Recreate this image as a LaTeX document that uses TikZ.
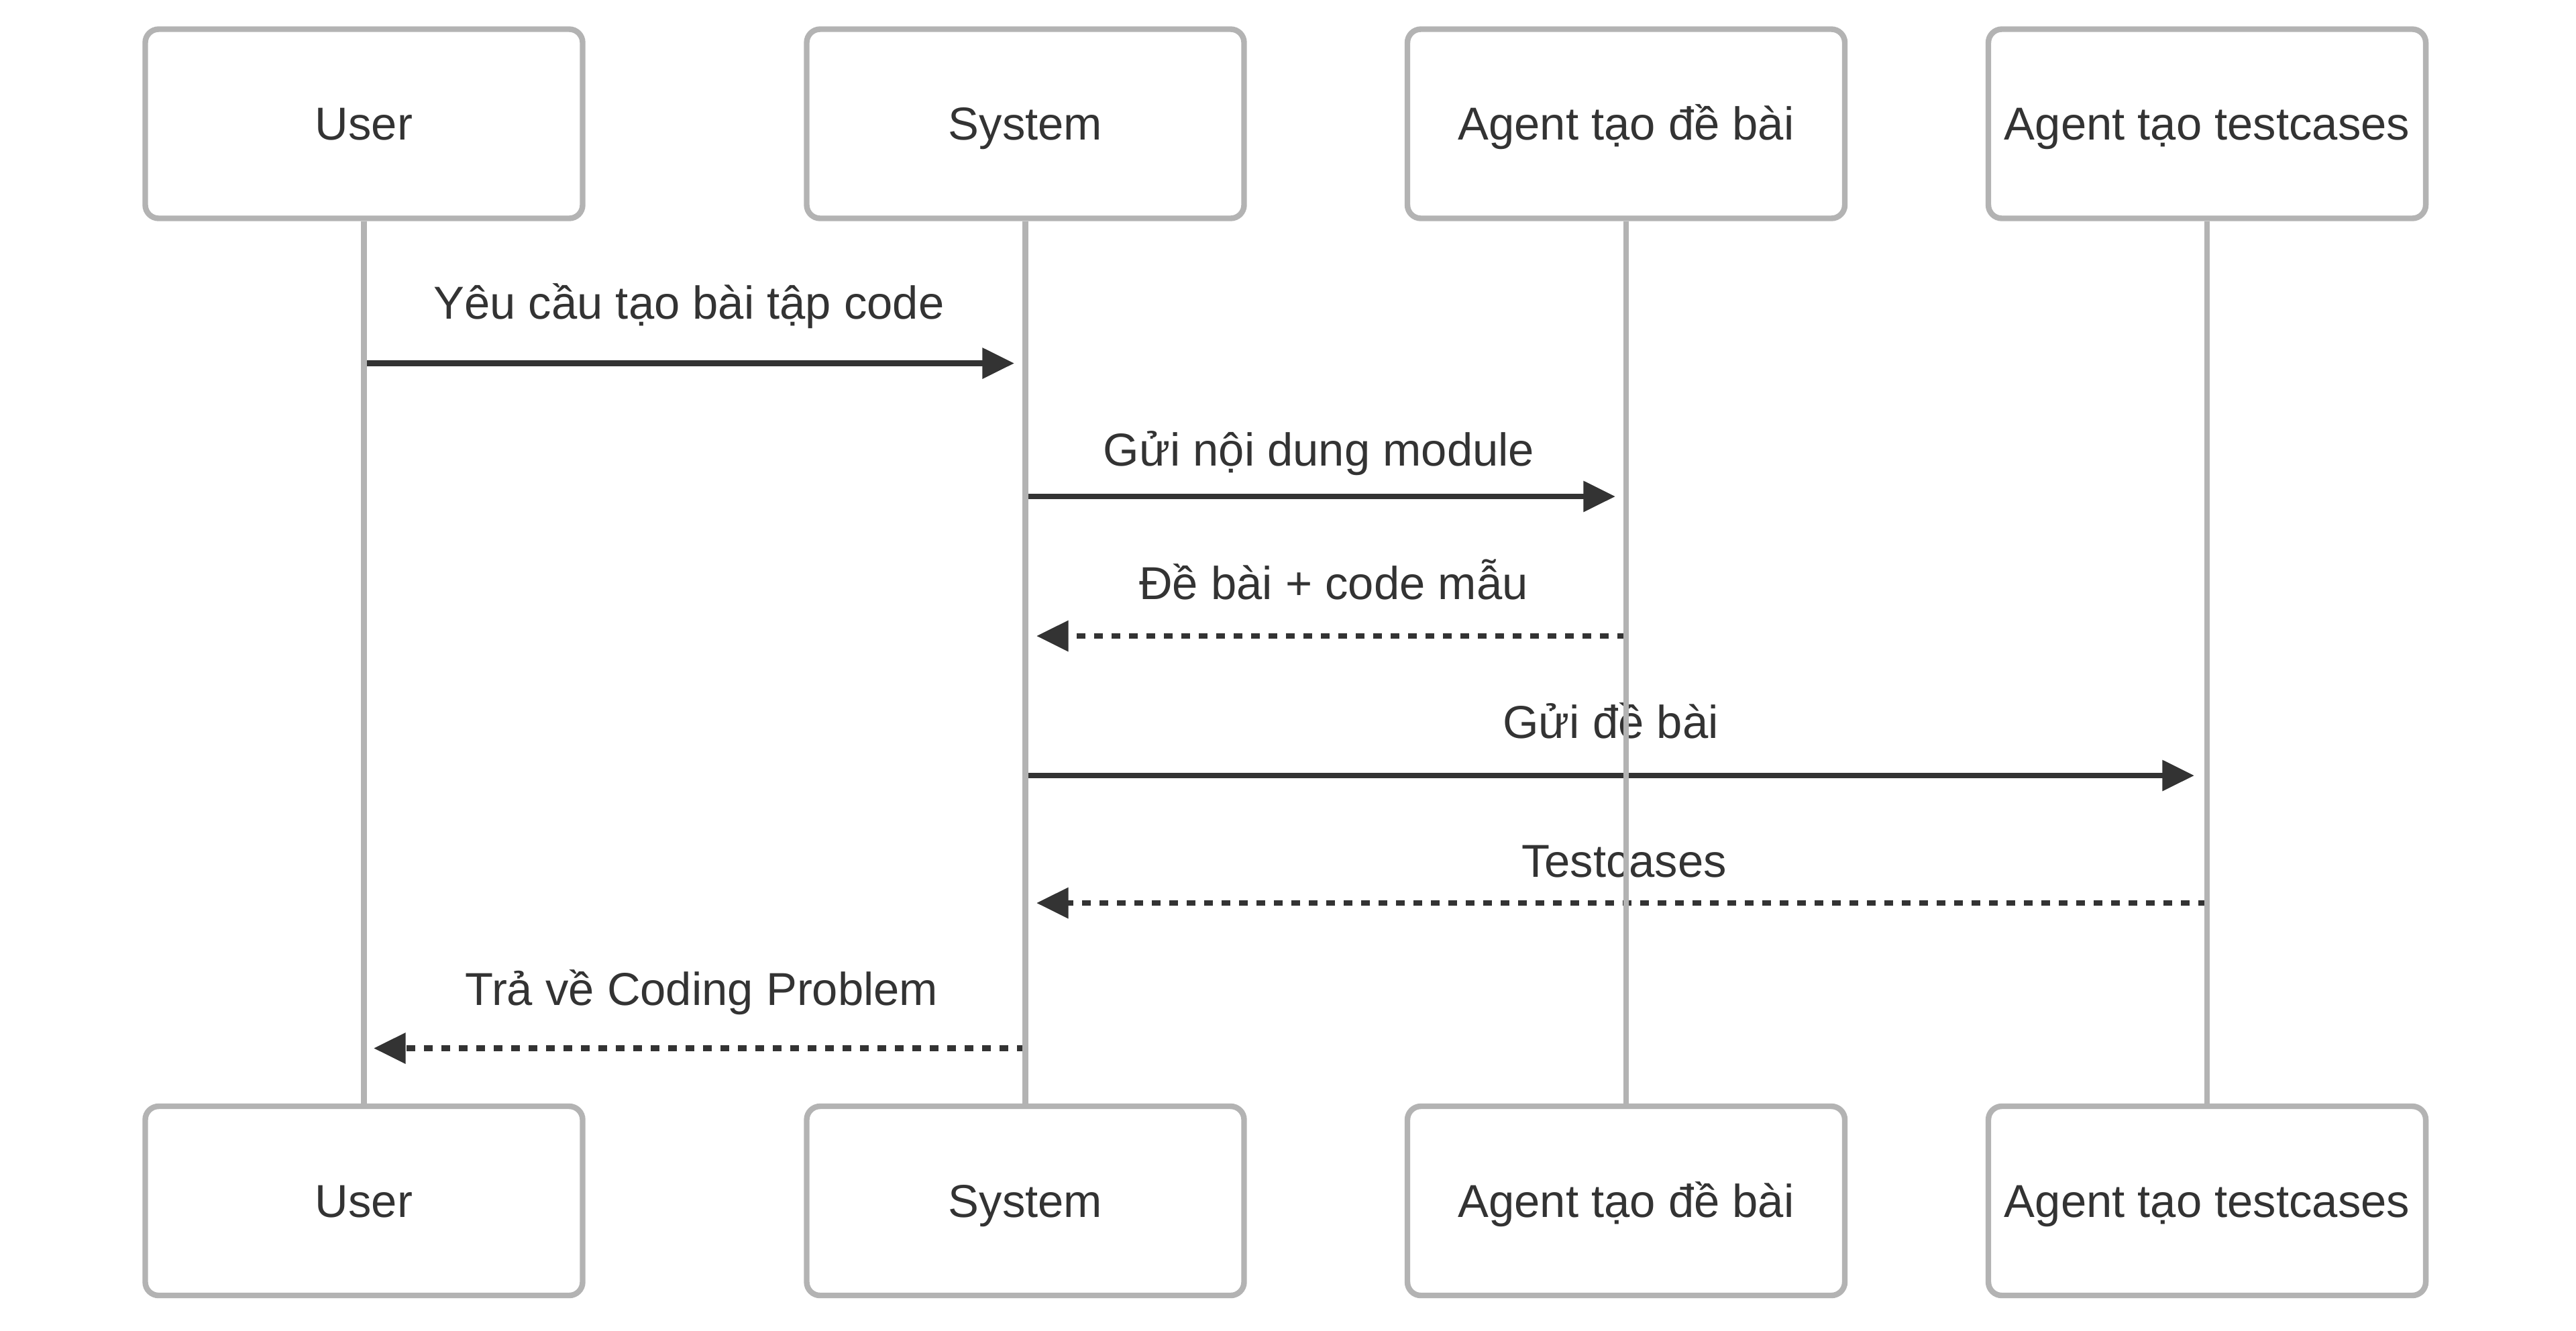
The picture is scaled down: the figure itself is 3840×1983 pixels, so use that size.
\documentclass[tikz,border=0pt]{standalone}
\usepackage{fontspec}
\setmainfont{Liberation Sans}
\usetikzlibrary{arrows.meta}
\definecolor{boxgray}{RGB}{179,179,179}
\definecolor{ink}{RGB}{51,51,51}
\tikzset{
  actorbox/.style={draw=boxgray, line width=2.1pt, fill=white, rounded corners=5pt,
    minimum width=163pt, minimum height=70.5pt, inner sep=0pt,
    text height=12.2pt, text depth=0pt, text=ink,
    font=\fontsize{17.2pt}{20pt}\selectfont},
  lifeline/.style={draw=boxgray, line width=2.1pt},
  msgline/.style={draw=ink, line width=2.1pt, -{Triangle[length=11.9pt,width=11.1pt]}},
  replyline/.style={msgline, dash pattern=on 3.2pt off 3.3pt},
  msglabel/.style={anchor=base, inner sep=0pt, text=ink, font=\fontsize{17.2pt}{20pt}\selectfont}
}
\begin{document}
\begin{tikzpicture}[x=0.25pt,y=-0.25pt]
\useasboundingbox (0,0) rectangle (3840,1983);
\fill[white] (0,0) rectangle (3840,1983);
% actors top
\node[actorbox] (ut) at (542.5,184.5) {User};
\node[actorbox] (st) at (1528.5,184.5) {System};
\node[actorbox] (at) at (2424,184.5) {Agent tạo đề bài};
\node[actorbox] (tt) at (3290,184.5) {Agent tạo testcases};
% actors bottom
\node[actorbox] (ub) at (542.5,1790) {User};
\node[actorbox] (sb) at (1528.5,1790) {System};
\node[actorbox] (ab) at (2424,1790) {Agent tạo đề bài};
\node[actorbox] (tb) at (3290,1790) {Agent tạo testcases};
% message endpoints
\coordinate (m1a) at (542.5,541.5);  \coordinate (m1b) at (1512,541.5);
\coordinate (m2a) at (1528.5,740);   \coordinate (m2b) at (2408,740);
\coordinate (m3a) at (2424,948);     \coordinate (m3b) at (1545,948);
\coordinate (m4a) at (1528.5,1156);  \coordinate (m4b) at (3271,1156);
\coordinate (m5a) at (3290,1346);    \coordinate (m5b) at (1545,1346);
\coordinate (m6a) at (1528.5,1562.5);\coordinate (m6b) at (557,1562.5);
% messages
\draw[msgline] (m1a) -- (m1b);
\node[msglabel] (l1) at (1027,475) {Yêu cầu tạo bài tập code};
\draw[msgline] (m2a) -- (m2b);
\node[msglabel] (l2) at (1966,694) {Gửi nội dung module};
\draw[replyline] (m3a) -- (m3b);
\node[msglabel] (l3) at (1988,893) {Đề bài + code mẫu};
\draw[msgline] (m4a) -- (m4b);
\node[msglabel] (l4) at (2401,1100) {Gửi đề bài};
\draw[replyline] (m5a) -- (m5b);
\node[msglabel] (l5) at (2421,1307) {Testcases};
\draw[replyline] (m6a) -- (m6b);
\node[msglabel] (l6) at (1046,1498) {Trả về Coding Problem};
% lifelines
\draw[lifeline] (ut.south) -- (ub.north);
\draw[lifeline] (st.south) -- (sb.north);
\draw[lifeline] (at.south) -- (ab.north);
\draw[lifeline] (tt.south) -- (tb.north);
\end{tikzpicture}
\end{document}
